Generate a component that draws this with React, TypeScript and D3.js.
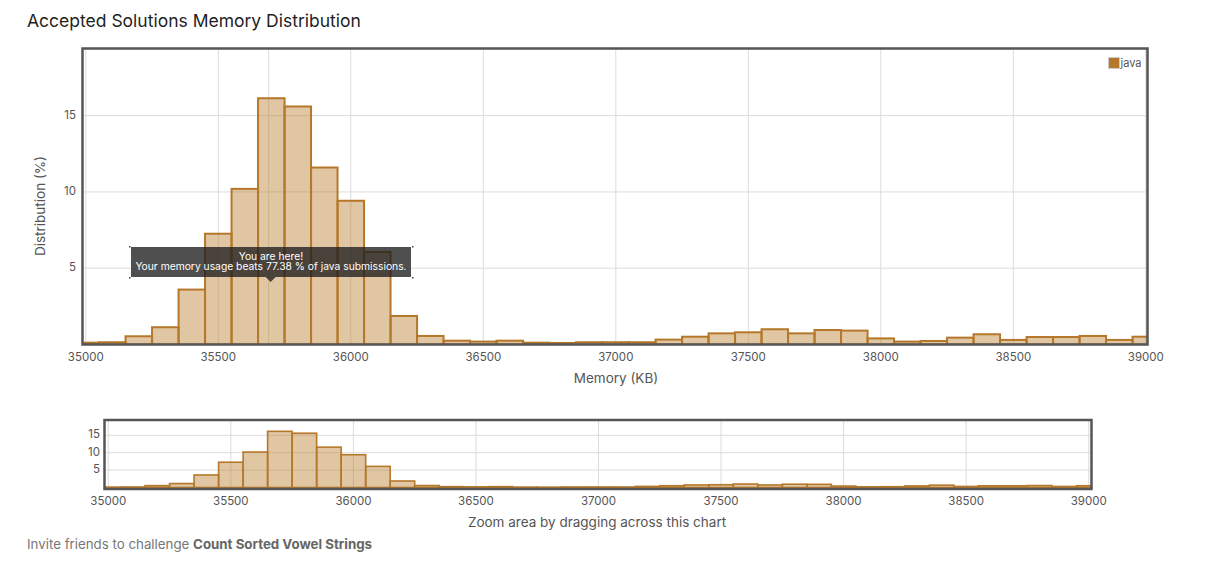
import React from "react";
import * as d3 from "d3";

// ---- data ----
const memoryBins = [
  35000, 35100, 35200, 35300, 35400, 35500, 35600, 35700, 35800, 35900,
  36000, 36100, 36200, 36300, 36400, 36500, 36600, 36700, 36800, 36900,
  37000, 37100, 37200, 37300, 37400, 37500, 37600, 37700, 37800, 37900,
  38000, 38100, 38200, 38300, 38400, 38500, 38600, 38700, 38800, 38900,
  39000,
];
const javaDistribution = [
  0.12, 0.15, 0.54, 1.13, 3.6, 7.26, 10.2, 16.14, 15.6, 11.6,
  9.42, 6.07, 1.87, 0.56, 0.25, 0.19, 0.25, 0.12, 0.1, 0.15,
  0.15, 0.15, 0.32, 0.51, 0.73, 0.8, 1.0, 0.73, 0.95, 0.91,
  0.4, 0.19, 0.23, 0.45, 0.67, 0.3, 0.49, 0.49, 0.56, 0.3,
  0.51,
];
const xTicks = [35000, 35500, 36000, 36500, 37000, 37500, 38000, 38500, 39000];
const yTicks = [5, 10, 15];
const binWidth = 100;
const yMax = 19.4;
const youAreHere = 35690;
const seriesName = "java";
const tooltipLines = ["You are here!", "Your memory usage beats 77.38 % of java submissions."];

const FONT = "Inter, 'Liberation Sans', Arial, sans-serif";
const BAR_FILL = "rgba(183,118,38,0.42)";
const BAR_STROKE = "#b5782a";
const GRID = "#dcdcdc";
const FRAME = "#555";

type PanelProps = {
  id: string;
  left: number; right: number; top: number; bottom: number;
  x0: number; x1: number; y0: number;
  barStroke: number;
  tickFont: number;
  yLabelX: number;
  xLabelY: number;
  marker?: boolean;
};

function Panel(p: PanelProps) {
  const x = d3.scaleLinear().domain([35000, 39000]).range([p.x0, p.x1]);
  const y = d3.scaleLinear().domain([0, yMax]).range([p.y0, p.top]);
  return (
    <g>
      <defs>
        <clipPath id={p.id}>
          <rect x={p.left} y={p.top} width={p.right - p.left} height={p.bottom - p.top} />
        </clipPath>
      </defs>
      {yTicks.map((t) => (
        <line key={"gy" + t} x1={p.left} x2={p.right} y1={y(t)} y2={y(t)} stroke={GRID} strokeWidth={1} />
      ))}
      {xTicks.map((t) => (
        <line key={"gx" + t} x1={x(t)} x2={x(t)} y1={p.top} y2={p.bottom} stroke={GRID} strokeWidth={1} />
      ))}
      {p.marker && (
        <line x1={x(youAreHere)} x2={x(youAreHere)} y1={p.top} y2={p.bottom} stroke={GRID} strokeWidth={1} />
      )}
      <g clipPath={`url(#${p.id})`}>
        {memoryBins.map((m, i) => {
          const xa = x(m - binWidth / 2);
          const xb = x(m + binWidth / 2);
          const yt = y(javaDistribution[i]);
          return (
            <rect
              key={m}
              x={xa}
              y={yt}
              width={xb - xa}
              height={p.y0 - yt}
              fill={BAR_FILL}
              stroke={BAR_STROKE}
              strokeWidth={p.barStroke}
            />
          );
        })}
      </g>
      <rect x={p.left} y={p.top} width={p.right - p.left} height={p.bottom - p.top} fill="none" stroke={FRAME} strokeWidth={2.5} />
      {yTicks.map((t) => (
        <text key={"ly" + t} x={p.yLabelX} y={y(t)} textAnchor="end" dominantBaseline="middle" fontSize={p.tickFont} fill="#555" fontFamily={FONT}>
          {t}
        </text>
      ))}
      {xTicks.map((t) => (
        <text key={"lx" + t} x={x(t)} y={p.xLabelY} textAnchor="middle" dominantBaseline="middle" fontSize={p.tickFont} fill="#555" fontFamily={FONT}>
          {t}
        </text>
      ))}
    </g>
  );
}

export default function App() {
  const mainX = d3.scaleLinear().domain([35000, 39000]).range([85.8, 1145.8]);
  const tipX = mainX(youAreHere) + 2;
  const boxL = 131, boxR = 411, boxT = 247, boxB = 277;
  return (
    <svg
      width={1230}
      height={563}
      style={{ position: "absolute", left: 0, top: 0, background: "#fff" }}
      fontFamily={FONT}
    >
      <text x={27} y={22} dominantBaseline="middle" fontSize={17.5} fontWeight={400} fill="#1f1f1f">
        Accepted Solutions Memory Distribution
      </text>

      <Panel
        id="clipMain"
        left={82.5} right={1147.5} top={48.5} bottom={344.5}
        x0={85.8} x1={1145.8} y0={344.5}
        barStroke={2}
        tickFont={11.5}
        yLabelX={76}
        xLabelY={358}
        marker
      />
      <text x={616} y={379} textAnchor="middle" dominantBaseline="middle" fontSize={13.5} fill="#555">
        Memory (KB)
      </text>
      <text transform="translate(41,206) rotate(-90)" textAnchor="middle" dominantBaseline="middle" fontSize={13.5} fill="#555">
        Distribution (%)
      </text>

      {/* legend */}
      <rect x={1108.5} y={57.5} width={11} height={11} fill="#b5782a" stroke="#ccc" strokeWidth={1} />
      <text x={1120.5} y={63.5} dominantBaseline="middle" fontSize={11} fill="#555">
        {seriesName}
      </text>

      {/* tooltip */}
      <path
        d={`M${boxL},${boxT}H${boxR}V${boxB}H${tipX + 5}L${tipX},${boxB + 5}L${tipX - 5},${boxB}H${boxL}Z`}
        fill="rgba(30,30,30,0.78)"
      />
      {[
        [boxL - 2, boxT - 1],
        [boxR + 1, boxT - 1],
        [boxL - 2, boxB],
        [boxR + 1, boxB],
      ].map(([cx, cy], i) => (
        <rect key={i} x={cx} y={cy} width={1.5} height={1.5} fill="#444" />
      ))}
      <text x={(boxL + boxR) / 2} y={257} textAnchor="middle" dominantBaseline="middle" fontSize={10.3} fill="#fff">
        {tooltipLines[0]}
      </text>
      <text x={(boxL + boxR) / 2} y={267.5} textAnchor="middle" dominantBaseline="middle" fontSize={10.3} fill="#fff">
        {tooltipLines[1]}
      </text>

      <Panel
        id="clipNav"
        left={104.5} right={1091.5} top={420} bottom={489}
        x0={108.3} x1={1088.7} y0={487.5}
        barStroke={1.6}
        tickFont={11.5}
        yLabelX={100}
        xLabelY={502}
      />
      <text x={597} y={523} textAnchor="middle" dominantBaseline="middle" fontSize={13.5} fill="#555">
        Zoom area by dragging across this chart
      </text>

      <text x={27} y={545} dominantBaseline="middle" fontSize={13.3} fill="#777">
        Invite friends to challenge <tspan fontWeight={700} fill="#666">Count Sorted Vowel Strings</tspan>
      </text>
    </svg>
  );
}
